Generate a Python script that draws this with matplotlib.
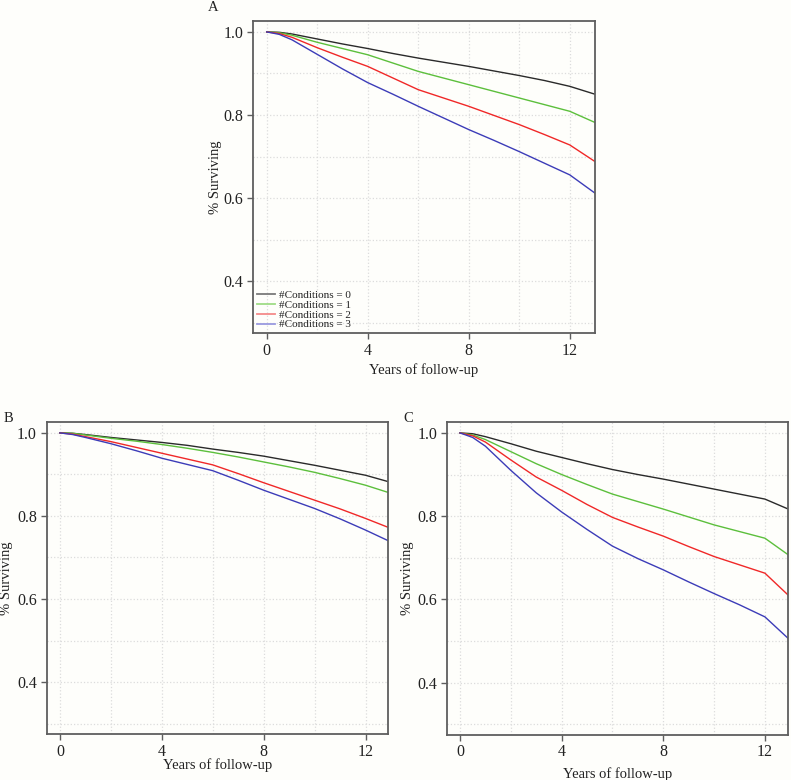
import matplotlib
matplotlib.use('Agg')
import matplotlib.pyplot as plt
from matplotlib.lines import Line2D
from matplotlib.ticker import FormatStrFormatter

plt.rcParams['font.family'] = ['Liberation Serif', 'DejaVu Serif']

# ---------------- data ----------------
labels = ['#Conditions = 0', '#Conditions = 1', '#Conditions = 2', '#Conditions = 3']

years_A = [0, 0.5, 1, 2, 3, 4, 5, 6, 7, 8, 9, 10, 11, 12, 13]
A_c0 = [1.0, 0.999, 0.995, 0.983, 0.971, 0.960, 0.948, 0.937, 0.927, 0.917, 0.906, 0.895, 0.883, 0.869, 0.850]
A_c1 = [1.0, 0.998, 0.992, 0.975, 0.960, 0.945, 0.925, 0.905, 0.889, 0.873, 0.857, 0.841, 0.825, 0.809, 0.782]
A_c2 = [1.0, 0.996, 0.987, 0.962, 0.939, 0.917, 0.889, 0.861, 0.841, 0.821, 0.799, 0.777, 0.753, 0.728, 0.688]
A_c3 = [1.0, 0.994, 0.981, 0.946, 0.911, 0.878, 0.850, 0.821, 0.793, 0.765, 0.739, 0.712, 0.684, 0.656, 0.612]

years_B = [0, 0.5, 1, 2, 3, 4, 5, 6, 7, 8, 9, 10, 11, 12, 12.87]
B_c0 = [1.0, 0.999, 0.996, 0.989, 0.983, 0.977, 0.970, 0.961, 0.953, 0.944, 0.933, 0.922, 0.910, 0.898, 0.883]
B_c1 = [1.0, 0.999, 0.995, 0.987, 0.980, 0.972, 0.963, 0.953, 0.942, 0.930, 0.918, 0.905, 0.890, 0.874, 0.857]
B_c2 = [1.0, 0.997, 0.991, 0.979, 0.965, 0.951, 0.937, 0.923, 0.902, 0.880, 0.859, 0.838, 0.817, 0.794, 0.773]
B_c3 = [1.0, 0.996, 0.989, 0.974, 0.957, 0.939, 0.924, 0.909, 0.886, 0.862, 0.840, 0.818, 0.793, 0.766, 0.741]

years_C = [0, 0.5, 1, 2, 3, 4, 5, 6, 7, 8, 9, 10, 11, 12, 12.92]
C_c0 = [1.0, 0.998, 0.991, 0.974, 0.956, 0.941, 0.926, 0.912, 0.900, 0.889, 0.877, 0.865, 0.853, 0.841, 0.817]
C_c1 = [1.0, 0.995, 0.984, 0.955, 0.926, 0.900, 0.876, 0.853, 0.835, 0.817, 0.798, 0.779, 0.763, 0.747, 0.707]
C_c2 = [1.0, 0.993, 0.978, 0.935, 0.894, 0.862, 0.828, 0.797, 0.774, 0.752, 0.727, 0.703, 0.683, 0.663, 0.610]
C_c3 = [1.0, 0.989, 0.968, 0.910, 0.856, 0.810, 0.768, 0.728, 0.698, 0.671, 0.642, 0.614, 0.587, 0.558, 0.506]

x_major = [0, 4, 8, 12]
x_minor = [2, 6, 10]
y_major = [0.4, 0.6, 0.8, 1.0]
y_minor = [0.3, 0.5, 0.7, 0.9]

# ---------------- style ----------------
bg = '#fefefb'
spinec = '#5e5e5e'
txtc = '#222222'
colors = ['#2a2a2a', '#5cbf3c', '#f02828', '#3c3cb8']
legend_colors = ['#7a7a7a', '#9fdc86', '#f58a8a', '#9a9ae0']

fig = plt.figure(figsize=(7.91, 7.80), dpi=100, facecolor=bg)
axA = fig.add_axes([0.3199, 0.5727, 0.4324, 0.4008])
axB = fig.add_axes([0.0590, 0.0590, 0.4311, 0.4004])
axC = fig.add_axes([0.5655, 0.0581, 0.4311, 0.4013])


def style(ax, xlim, xlabelpad, ylabelpad):
    ax.set_facecolor(bg)
    ax.set_xlim(*xlim)
    ax.set_ylim(0.275, 1.027)
    ax.set_xticks(x_major)
    ax.set_xticks(x_minor, minor=True)
    ax.set_yticks(y_major)
    ax.set_yticks(y_minor, minor=True)
    ax.yaxis.set_major_formatter(FormatStrFormatter('%.1f'))
    ax.tick_params(which='minor', length=0)
    ax.tick_params(which='major', length=4, width=1.0, color=spinec,
                   labelsize=11.5, pad=3, labelcolor=txtc)
    ax.grid(which='both', color='#dcdcdc', linestyle=':', linewidth=0.9)
    ax.set_axisbelow(True)
    for s in ax.spines.values():
        s.set_color(spinec)
        s.set_linewidth(1.3)
    ax.set_xlabel('Years of follow-up', fontsize=10.5, color=txtc, labelpad=xlabelpad)
    ax.set_ylabel('% Surviving', fontsize=10.5, color=txtc, labelpad=ylabelpad)


for ax, yrs, series in [(axA, years_A, [A_c0, A_c1, A_c2, A_c3]),
                        (axB, years_B, [B_c0, B_c1, B_c2, B_c3]),
                        (axC, years_C, [C_c0, C_c1, C_c2, C_c3])]:
    for vals, col in zip(series, colors):
        ax.plot(yrs, vals, color=col, linewidth=1.0)

style(axA, (-0.54, 13.0), 3, 1)
style(axB, (-0.52, 12.87), -1, 3)
style(axC, (-0.50, 12.92), 5, 3)

handles = [Line2D([], [], color=c, linewidth=1.3) for c in legend_colors]
leg = axA.legend(handles, labels, loc='lower left', frameon=False, fontsize=8,
                 handlelength=1.6, handletextpad=0.4, labelspacing=0.0,
                 borderaxespad=0.15, borderpad=0.2)
for t in leg.get_texts():
    t.set_color(txtc)

fig.text(213 / 791, 1 - 7.5 / 780, 'A', fontsize=10.5, ha='center', va='center', color=txtc)
fig.text(8 / 791, 1 - 418 / 780, 'B', fontsize=10.5, ha='center', va='center', color=txtc)
fig.text(408 / 791, 1 - 418 / 780, 'C', fontsize=10.5, ha='center', va='center', color=txtc)

fig.savefig('out.png', dpi=100, facecolor=bg)
